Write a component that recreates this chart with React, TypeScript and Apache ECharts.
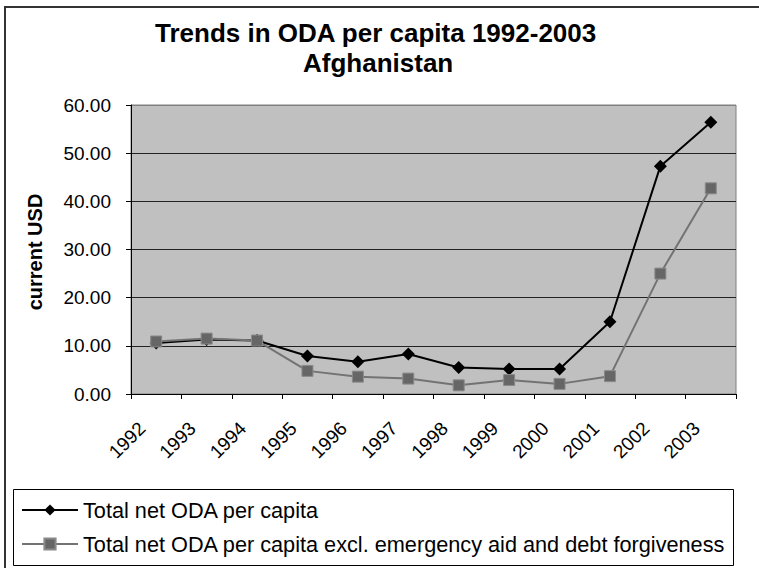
import React, { useEffect, useRef } from "react";
import * as echarts from "echarts";

const years = ["1992", "1993", "1994", "1995", "1996", "1997", "1998", "1999", "2000", "2001", "2002", "2003"];
const totalOda = [10.6, 11.3, 11.1, 7.9, 6.7, 8.3, 5.5, 5.2, 5.2, 15.0, 47.3, 56.4];
const odaExcl = [10.9, 11.5, 11.1, 4.8, 3.6, 3.2, 1.8, 2.9, 2.1, 3.7, 25.0, 42.7];
const seriesNames = [
  "Total net ODA per capita",
  "Total net ODA per capita excl. emergency aid and debt forgiveness",
];
const titleLines = ["Trends in ODA per capita 1992-2003", "Afghanistan"];
const yAxisName = "current USD";

const FONT = "'Liberation Sans', Arial, sans-serif";

export default function App() {
  const ref = useRef<HTMLDivElement>(null);
  useEffect(() => {
    if (!ref.current) return;
    const chart = echarts.init(ref.current, undefined, { renderer: "svg" });
    chart.setOption({
      animation: false,
      backgroundColor: "#ffffff",
      title: [
        {
          text: titleLines[0],
          left: 155,
          top: 20,
          padding: 0,
          textStyle: { fontFamily: FONT, fontSize: 26, fontWeight: "bold", color: "#000" },
        },
        {
          text: titleLines[1],
          left: 303,
          top: 50,
          padding: 0,
          textStyle: { fontFamily: FONT, fontSize: 26, fontWeight: "bold", color: "#000" },
        },
      ],
      grid: {
        left: 131,
        right: 23,
        top: 105,
        bottom: 174,
        show: true,
        backgroundColor: "#c0c0c0",
        borderColor: "#808080",
        borderWidth: 1,
      },
      xAxis: {
        type: "category",
        data: years,
        boundaryGap: true,
        axisLine: { show: true, lineStyle: { color: "#000", width: 1 } },
        axisTick: { show: true, length: 5, alignWithLabel: false, lineStyle: { color: "#000" } },
        axisLabel: {
          rotate: 45,
          interval: 0,
          margin: 17,
          padding: [0, 20, 0, 0],
          fontFamily: FONT,
          fontSize: 19,
          color: "#000",
        },
        splitLine: { show: false },
      },
      yAxis: {
        type: "value",
        min: 0,
        max: 60,
        interval: 10,
        axisLine: { show: true, lineStyle: { color: "#000", width: 1 } },
        axisTick: { show: true, length: 5, lineStyle: { color: "#000" } },
        axisLabel: {
          margin: 20,
          fontFamily: FONT,
          fontSize: 19,
          color: "#000",
          formatter: (v: number) => v.toFixed(2),
        },
        splitLine: {
          show: true,
          lineStyle: {
            color: ["#000", "#222", "#222", "#222", "#222", "#222", "#808080"],
            width: 1,
          },
        },
      },
      legend: {
        orient: "vertical",
        left: 21,
        top: 499,
        padding: 0,
        itemWidth: 56,
        itemHeight: 14,
        itemGap: 12,
        textStyle: { fontFamily: FONT, fontSize: 21.7, color: "#000" },
        data: seriesNames,
      },
      graphic: [
        {
          type: "rect",
          z: -1,
          shape: { x: 5, y: 7, width: 800, height: 620 },
          style: { fill: "none", stroke: "#333", lineWidth: 2 },
        },
        {
          type: "rect",
          shape: { x: 13.5, y: 489.5, width: 720, height: 76 },
          style: { fill: "none", stroke: "#000", lineWidth: 1 },
        },
        {
          type: "text",
          x: 35,
          y: 252,
          rotation: Math.PI / 2,
          style: {
            text: yAxisName,
            fontFamily: FONT,
            fontSize: 20,
            fontWeight: "bold",
            fill: "#000",
            align: "center",
            verticalAlign: "middle",
          },
        },
      ],
      series: [
        {
          name: seriesNames[0],
          type: "line",
          data: totalOda,
          symbol: "diamond",
          symbolSize: 13,
          lineStyle: { color: "#000", width: 2 },
          itemStyle: { color: "#000" },
          z: 2,
        },
        {
          name: seriesNames[1],
          type: "line",
          data: odaExcl,
          symbol: "rect",
          symbolSize: 11,
          lineStyle: { color: "#737373", width: 2 },
          itemStyle: { color: "#666", borderColor: "#8a8a8a", borderWidth: 1 },
          z: 3,
        },
      ],
    });
    return () => chart.dispose();
  }, []);
  return (
    <div
      ref={ref}
      style={{ position: "fixed", left: 0, top: 0, width: 759, height: 568 }}
    />
  );
}
